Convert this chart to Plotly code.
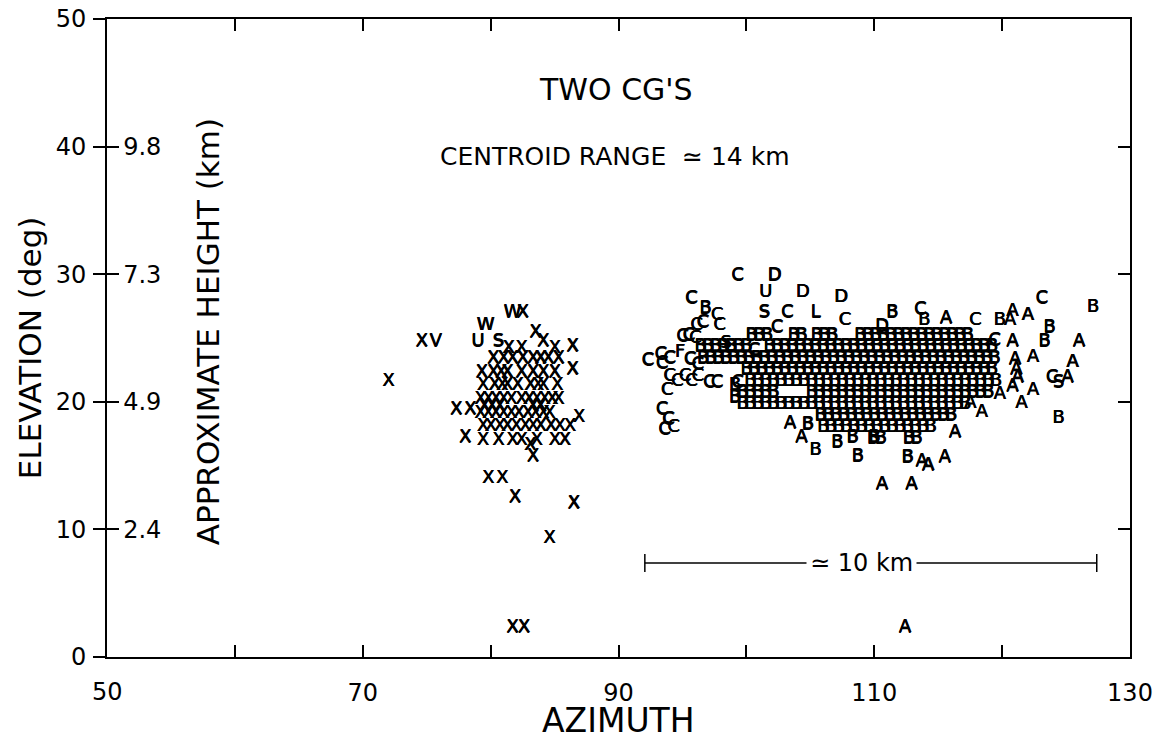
import plotly.graph_objects as go

FONT = "DejaVu Sans"

# ---------------- data (azimuth deg, elevation deg) ----------------
# dense "B" region, read row by row (quantised grid of the digitiser)
b_row_el = [25.2, 24.3, 23.4, 22.5, 21.6, 20.7, 19.8, 18.9, 18.0, 17.1]
b_row_1 = [100.4, 101.0, 101.6, 103.7, 104.3, 105.5, 106.1, 106.7, 108.9, 109.5, 110.1, 110.7,
           111.3, 111.9, 112.5, 113.1, 113.7, 114.3, 114.9, 115.5, 116.1, 116.7, 117.3]
b_row_2 = [96.4, 97.0, 97.6, 98.2, 98.8, 99.4, 100.0, 101.8, 102.4, 103.0, 103.6, 104.2, 104.8,
           105.4, 106.0, 106.6, 107.2, 107.8, 108.4, 109.0, 109.6, 110.2, 110.8, 111.4, 112.0,
           112.6, 113.2, 113.8, 114.4, 115.0, 115.6, 116.2, 116.8, 117.4, 118.0, 118.6, 119.2]
b_row_3 = [96.6, 97.2, 97.8, 98.4, 99.0, 99.6, 100.2, 100.8, 101.4, 102.0, 102.6, 103.2, 103.8,
           104.4, 105.0, 105.6, 106.2, 106.8, 107.4, 108.0, 108.6, 109.2, 109.8, 110.4, 111.0,
           111.6, 112.2, 112.8, 113.4, 114.0, 114.6, 115.2, 115.8, 116.4, 117.0, 117.6, 118.2,
           118.8, 119.4]
b_row_4 = [100.0, 100.6, 101.2, 101.8, 102.4, 103.0, 103.6, 104.2, 104.8, 105.4, 106.0, 106.6,
           107.2, 107.8, 108.4, 109.0, 109.6, 110.2, 110.8, 111.4, 112.0, 112.6, 113.2, 113.8,
           114.4, 115.0, 115.6, 116.2, 116.8, 117.4, 118.0, 118.6, 119.2]
b_row_5 = [100.3, 100.9, 101.5, 102.1, 102.7, 103.3, 103.9, 104.5, 105.1, 105.7, 106.3, 106.9,
           107.5, 108.1, 108.7, 109.3, 109.9, 110.5, 111.1, 111.7, 112.3, 112.9, 113.5, 114.1,
           114.7, 115.3, 115.9, 116.5, 117.1, 117.7, 118.3, 118.9, 119.5]
b_row_6 = [99.7, 100.3, 100.9, 101.5, 102.1, 105.1, 105.7, 106.3, 106.9, 107.5, 108.1, 108.7,
           109.3, 109.9, 110.5, 111.1, 111.7, 112.3, 112.9, 113.5, 114.1, 114.7, 115.3, 115.9,
           116.5, 117.1, 117.7, 118.3, 118.9]
b_row_7 = [99.7, 100.3, 100.9, 101.5, 102.1, 102.7, 103.3, 103.9, 104.5, 105.1, 105.7, 106.3,
           106.9, 107.5, 108.1, 108.7, 109.3, 109.9, 110.5, 111.1, 111.7, 112.3, 112.9, 113.5,
           114.1, 114.7, 115.3, 115.9, 116.5, 117.1]
b_row_8 = [105.8, 106.4, 107.0, 107.6, 108.2, 108.8, 109.4, 110.0, 110.6, 111.2, 111.8, 112.4,
           113.0, 113.6, 114.2, 114.8, 115.4, 116.0]
b_row_9 = [106.0, 106.6, 107.2, 107.8, 108.4, 109.0, 109.6, 110.2, 110.8, 111.4, 112.0, 112.6,
           113.2, 113.8, 114.4]
b_row_10 = [109.9, 110.5, 112.7, 113.3]
b_rows = [b_row_1, b_row_2, b_row_3, b_row_4, b_row_5, b_row_6, b_row_7, b_row_8, b_row_9, b_row_10]

b_extra_az = [99.1, 99.1, 111.4, 113.9, 119.8, 123.7, 123.3, 124.4, 127.1, 104.8, 105.4,
              107.1, 108.7, 108.3, 112.6, 96.8, 110.0]
b_extra_el = [21.3, 20.3, 27.0, 26.4, 26.4, 25.8, 24.7, 18.7, 27.4, 18.2, 16.2,
              16.8, 15.7, 17.2, 15.6, 27.3, 17.2]

a_az = [103.4, 104.3, 110.6, 112.9, 112.4, 113.7, 114.2, 115.5, 116.3, 117.5, 118.4, 119.8,
        121.5, 122.4, 120.8, 121.2, 121.1, 121.0, 122.4, 120.8, 126.0, 125.5, 125.1, 120.6,
        120.8, 122.0, 115.6]
a_el = [18.3, 17.2, 13.5, 13.5, 2.3, 15.3, 15.0, 15.6, 17.6, 19.9, 19.2, 20.6,
        19.9, 20.9, 21.2, 21.9, 22.5, 23.3, 23.5, 24.7, 24.7, 23.1, 21.9, 26.4,
        27.1, 26.8, 26.5]

c_az = [99.3, 95.7, 97.7, 97.9, 103.2, 107.7, 102.4, 113.6, 117.9, 123.1, 119.4, 123.9,
        92.3, 93.8, 93.4, 93.9, 93.6, 94.3, 99.3,
        95.0, 95.5, 96.0, 96.1, 96.6, 94.0, 95.6, 96.2, 94.0, 94.6, 95.2, 95.7, 96.2,
        97.1, 97.7, 93.4, 98.7, 100.6, 93.3]
c_el = [29.9, 28.1, 26.8, 26.0, 27.0, 26.4, 25.8, 27.2, 26.4, 28.1, 24.8, 21.9,
        23.2, 20.9, 19.4, 18.6, 17.8, 18.0, 21.5,
        25.1, 25.2, 25.0, 26.0, 26.2, 23.4, 23.3, 22.9, 22.0, 21.6, 22.0, 21.6, 22.0,
        21.5, 21.5, 23.0, 24.3, 24.0, 23.7]

other_az = [102.2, 104.4, 107.4, 110.6, 101.5, 79.0, 101.4, 124.4, 98.4, 80.6, 105.4,
            94.8, 79.6, 81.7, 75.7]
other_el = [29.9, 28.6, 28.2, 25.9, 28.6, 24.7, 27.0, 21.5, 24.6, 24.7, 27.0,
            23.9, 26.0, 27.0, 24.7]
other_txt = ["D", "D", "D", "D", "U", "U", "S", "S", "S", "S", "L",
             "F", "W", "W", "V"]

# dense "X" region (first flash), row by row
x_row_el = [24.2, 23.4, 22.3, 21.3, 20.2, 19.6, 19.1, 18.1, 17.0]
x_row_1 = [81.4, 82.4, 85.0]
x_row_2 = [80.2, 81.0, 81.7, 82.5, 83.3, 83.9, 84.5, 85.3]
x_row_3 = [79.3, 80.2, 80.8, 81.3, 82.4, 83.3, 84.1, 85.0]
x_row_4 = [79.4, 80.3, 80.9, 81.3, 82.1, 83.1, 83.7, 84.1, 85.2]
x_row_5 = [79.2, 79.8, 80.4, 81.0, 81.6, 82.4, 83.0, 83.6, 84.2, 84.8, 85.3]
x_row_6 = [79.5, 80.1, 80.7, 83.3, 83.9]
x_row_7 = [79.2, 79.8, 80.4, 81.0, 81.6, 82.2, 82.9, 83.5, 84.1, 84.6]
x_row_8 = [79.4, 80.0, 80.7, 81.3, 82.0, 82.7, 83.3, 83.9, 84.7, 85.4, 86.2]
x_row_9 = [79.4, 80.6, 81.7, 82.4, 83.6, 85.0, 85.8]
x_rows = [x_row_1, x_row_2, x_row_3, x_row_4, x_row_5, x_row_6, x_row_7, x_row_8, x_row_9]

x_extra_az = [74.6, 72.0, 77.3, 78.4, 78.0, 86.9, 86.4, 86.4, 83.3, 83.1, 79.8, 80.9,
              81.9, 86.5, 84.6, 81.7, 82.6, 82.5, 83.5, 84.1]
x_extra_el = [24.7, 21.6, 19.4, 19.4, 17.2, 18.8, 24.3, 22.5, 15.7, 16.6, 14.0, 14.0,
              12.5, 12.0, 9.3, 2.3, 2.3, 27.0, 25.4, 24.7]

x_tick_vals = [50, 60, 70, 80, 90, 100, 110, 120, 130]
x_tick_text = ["", "", "70", "", "90", "", "110", "", "130"]
x_first_label = "50"
y_tick_vals = [0, 10, 20, 30, 40, 50]
y_tick_text = ["0", "10", "20", "30", "40", "50"]
h_tick_vals = [10, 20, 30, 40]
h_tick_text = ["2.4", "4.9", "7.3", "9.8"]

scale_bar = {"x0": 92.06, "x1": 127.4, "y": 7.37, "label_x": 109.0, "label": "≃ 10 km"}

# ---------------- build figure ----------------
b_az, b_el = [], []
for el, row in zip(b_row_el, b_rows):
    b_az += row
    b_el += [el] * len(row)
b_az += b_extra_az
b_el += b_extra_el

xx_az, xx_el = [], []
for el, row in zip(x_row_el, x_rows):
    xx_az += row
    xx_el += [el] * len(row)
xx_az += x_extra_az
xx_el += x_extra_el

LETTER = dict(family=FONT, size=18, color="black",
              shadow="0.6px 0px 0px #000, 0px 0.6px 0px #000")

fig = go.Figure()


def add_letters(xs, ys, txt):
    if isinstance(txt, str):
        txt = [txt] * len(xs)
    fig.add_trace(go.Scatter(x=xs, y=ys, mode="text", text=txt, textfont=LETTER,
                             textposition="middle center", hoverinfo="skip",
                             showlegend=False, cliponaxis=False))


add_letters(b_az, b_el, "B")
add_letters(c_az, c_el, "C")
add_letters(a_az, a_el, "A")
add_letters(other_az, other_el, other_txt)
add_letters(xx_az, xx_el, "X")
# invisible trace to anchor the height axis
fig.add_trace(go.Scatter(x=[50], y=[0], yaxis="y2", mode="markers",
                         marker=dict(opacity=0), hoverinfo="skip", showlegend=False))

# scale bar
sb = scale_bar
fig.add_shape(type="line", x0=sb["x0"], x1=sb["x1"], y0=sb["y"], y1=sb["y"],
              xref="x", yref="y", line=dict(color="black", width=1.5))
for xe in (sb["x0"], sb["x1"]):
    fig.add_shape(type="line", x0=xe, x1=xe, y0=sb["y"] - 0.7, y1=sb["y"] + 0.7,
                  xref="x", yref="y", line=dict(color="black", width=1.5))
fig.add_annotation(x=sb["label_x"], y=sb["y"], xref="x", yref="y", text=sb["label"],
                   showarrow=False, bgcolor="white", borderpad=3,
                   font=dict(family=FONT, size=24, color="black"))

fig.add_annotation(x=0.4976, y=0.889, xref="paper", yref="paper", text="TWO CG'S",
                   xanchor="center", yanchor="middle",
                   showarrow=False, font=dict(family=FONT, size=30, color="black"))
fig.add_annotation(x=0.4966, y=0.785, xref="paper", yref="paper",
                   xanchor="center", yanchor="middle",
                   text="CENTROID RANGE  ≃ 14 km", showarrow=False,
                   font=dict(family=FONT, size=25, color="black"))
fig.add_annotation(x=0.5, y=-0.099, xref="paper", yref="paper", text="AZIMUTH",
                   xanchor="center", yanchor="middle",
                   showarrow=False, font=dict(family=FONT, size=33, color="black"))
fig.add_annotation(x=0, y=0.484, xref="paper", yref="paper", xshift=-77,
                   xanchor="center", yanchor="middle",
                   text="ELEVATION (deg)", textangle=-90, showarrow=False,
                   font=dict(family=FONT, size=31, color="black"))
fig.add_annotation(x=0, y=0.509, xref="paper", yref="paper", xshift=101,
                   xanchor="center", yanchor="middle",
                   text="APPROXIMATE HEIGHT (km)", textangle=-90, showarrow=False,
                   font=dict(family=FONT, size=31, color="black"))
fig.add_annotation(x=50, y=0, xref="x", yref="paper", yshift=-35, text=x_first_label,
                   xanchor="center", yanchor="middle", showarrow=False,
                   font=dict(family=FONT, size=24, color="black"))

TICKFONT = dict(family=FONT, size=24, color="black")
fig.update_layout(
    width=1155, height=748,
    margin=dict(l=107, r=25, t=19, b=91, autoexpand=False),
    paper_bgcolor="white", plot_bgcolor="white",
    font=dict(family=FONT, color="black"),
    xaxis=dict(range=[50, 130], tickvals=x_tick_vals, ticktext=x_tick_text,
               ticks="inside", ticklen=12, tickwidth=2, tickcolor="black",
               showline=True, linewidth=2, linecolor="black", mirror="ticks",
               showgrid=False, zeroline=False, tickfont=TICKFONT, ticklabelstandoff=13,
               ticklabeloverflow="allow", automargin=False),
    yaxis=dict(range=[0, 50], tickvals=y_tick_vals, ticktext=y_tick_text,
               ticks="outside", ticklen=12, tickwidth=2, tickcolor="black",
               showline=True, linewidth=2, linecolor="black", mirror=True,
               showgrid=False, zeroline=False, tickfont=TICKFONT, ticklabelstandoff=2,
               ticklabeloverflow="allow", automargin=False),
    yaxis2=dict(range=[0, 50], overlaying="y", side="left", tickvals=h_tick_vals,
                ticktext=h_tick_text, ticks="inside", ticklen=12, tickwidth=2,
                tickcolor="black", showline=True, linewidth=2, linecolor="black",
                mirror="ticks", showgrid=False, zeroline=False, tickfont=TICKFONT,
                ticklabelposition="inside", ticklabelstandoff=6, automargin=False),
)

# remove the default 8 px page margin so the figure fills the window exactly
fig.write_html("out.html", config={"displayModeBar": False},
               post_script="document.body.style.margin='0px';document.body.style.overflow='hidden';")
